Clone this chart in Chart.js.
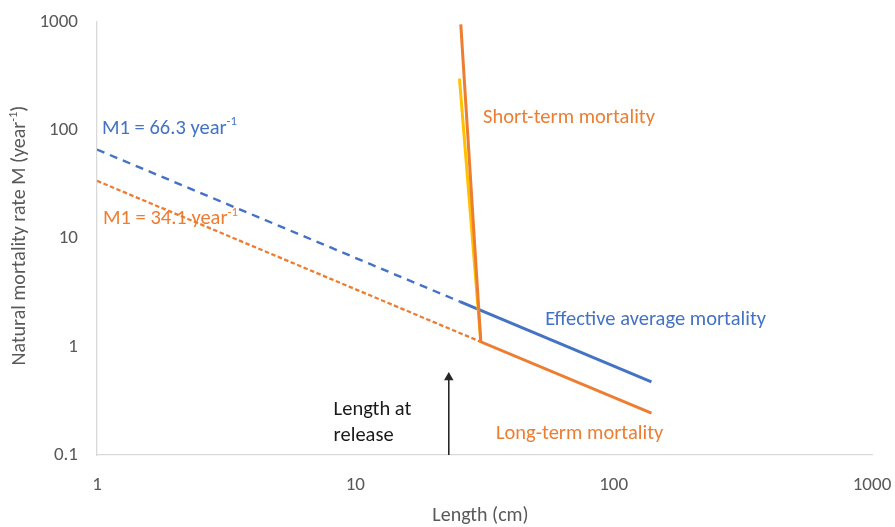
<!DOCTYPE html>
<html>
<head>
<meta charset="utf-8">
<script src="https://cdn.jsdelivr.net/npm/chart.js@4.4.1/dist/chart.umd.min.js"></script>
<style>
  html, body { margin: 0; padding: 0; background: #ffffff; }
  #wrap { width: 895px; height: 527px; }
</style>
</head>
<body>
<div id="wrap"><canvas id="c" width="895" height="527"></canvas></div>
<script>
// Axis tick values (log scales)
const xTicks = [1, 10, 100, 1000];
const yTicks = [0.1, 1, 10, 100, 1000];

// Length (cm) and natural mortality M (year^-1) for each line
const blueDashLen = [1, 25.4];
const blueDashM   = [66.3, 2.61];
const blueLen     = [25.4, 140];
const blueM       = [2.61, 0.474];
const orangeDashLen = [1, 30.6];
const orangeDashM   = [34.1, 1.11];
const orangeLen   = [25.6, 30.6, 140];
const orangeM     = [950, 1.11, 0.244];
const yellowLen   = [25.3, 30.6];
const yellowM     = [300, 1.11];
// Length at release arrow
const releaseLen  = [23, 23];
const releaseM    = [0.1, 0.52];

const FONT = 'Carlito, Calibri, Lato, sans-serif';
const BLUE = '#4472C4';
const ORANGE = '#ED7D31';
const YELLOW = '#FFC000';
const GREY = '#595959';
const NOTE_SIZE = 20.5;
const TITLE_SIZE = 20;
const TICK_SIZE = 19;

const pts = (xs, ys) => xs.map((x, i) => ({ x: x, y: ys[i] }));

// Text notes placed in data units; parts with sup:true are superscripts
const notes = [
  { at: [1.046, 103], color: BLUE, parts: [{ t: 'M1 = 66.3 year' }, { t: '-1', sup: true }] },
  { at: [1.055, 15.1], color: ORANGE, parts: [{ t: 'M1 = 34.1 year' }, { t: '-1', sup: true }] },
  { at: [31.2, 130], color: ORANGE, parts: [{ t: 'Short-term mortality' }] },
  { at: [54.3, 1.78], color: BLUE, parts: [{ t: 'Effective average mortality' }] },
  { at: [35.0, 0.156], color: ORANGE, parts: [{ t: 'Long-term mortality' }] },
  { at: [8.24, 0.26], color: '#1a1a1a', parts: [{ t: 'Length at' }] },
  { at: [8.24, 0.149], color: '#1a1a1a', parts: [{ t: 'release' }] }
];

function drawRich(ctx, parts, x, y, size, color, align) {
  ctx.save();
  ctx.fillStyle = color;
  ctx.textBaseline = 'middle';
  ctx.textAlign = 'left';
  let total = 0;
  const widths = parts.map(p => {
    ctx.font = (p.sup ? size * 0.62 : size) + 'px ' + FONT;
    const w = ctx.measureText(p.t).width;
    total += w;
    return w;
  });
  let cx = align === 'center' ? x - total / 2 : x;
  parts.forEach((p, i) => {
    ctx.font = (p.sup ? size * 0.62 : size) + 'px ' + FONT;
    ctx.fillText(p.t, cx, p.sup ? y - size * 0.32 : y);
    cx += widths[i];
  });
  ctx.restore();
}

const notesPlugin = {
  id: 'notes',
  afterDatasetsDraw(chart) {
    const ctx = chart.ctx;
    const xs = chart.scales.x, ys = chart.scales.y;
    notes.forEach(n => {
      drawRich(ctx, n.parts, xs.getPixelForValue(n.at[0]), ys.getPixelForValue(n.at[1]), NOTE_SIZE, n.color, 'left');
    });
    // axis titles
    const ca = chart.chartArea;
    drawRich(ctx, [{ t: 'Length (cm)' }], (ca.left + ca.right) / 2 - 4, chart.height - 11, TITLE_SIZE, GREY, 'center');
    ctx.save();
    ctx.translate(20, (ca.top + ca.bottom) / 2 - 3);
    ctx.rotate(-Math.PI / 2);
    drawRich(ctx, [{ t: 'Natural mortality rate M (year' }, { t: '-1', sup: true }, { t: ')' }], 0, 0, TITLE_SIZE, GREY, 'center');
    ctx.restore();
  }
};

const line = (data, color, width, dash, extra) => Object.assign({
  data: data,
  borderColor: color,
  backgroundColor: color,
  borderWidth: width,
  borderDash: dash || [],
  pointRadius: 0,
  showLine: true,
  fill: false,
  tension: 0,
  borderCapStyle: 'butt'
}, extra || {});

new Chart(document.getElementById('c'), {
  type: 'scatter',
  data: {
    datasets: [
      line(pts(releaseLen, releaseM), '#262626', 1.6, null, {
        pointRadius: [0, 5.5], pointStyle: 'triangle', pointBorderWidth: 0
      }),
      line(pts(orangeLen, orangeM), ORANGE, 3),
      line(pts(yellowLen, yellowM), YELLOW, 3),
      line(pts(blueLen, blueM), BLUE, 3),
      line(pts(blueDashLen, blueDashM), BLUE, 2.4, [8, 6]),
      line(pts(orangeDashLen, orangeDashM), ORANGE, 2.3, [4.5, 2.5])
    ]
  },
  options: {
    responsive: false,
    animation: false,
    devicePixelRatio: 1,
    layout: { padding: { top: 22, right: 23, left: 0, bottom: 0 } },
    plugins: { legend: { display: false }, tooltip: { enabled: false } },
    scales: {
      x: {
        type: 'logarithmic',
        min: 1, max: 1000,
        grid: { display: false, drawTicks: false },
        border: { display: true, color: '#D9D9D9', width: 1.3 },
        afterBuildTicks: s => { s.ticks = xTicks.map(v => ({ value: v })); },
        afterFit: s => { s.height = 72; s.paddingLeft = 0; s.paddingRight = 0; },
        ticks: {
          color: GREY, padding: 19, maxRotation: 0,
          font: { family: FONT, size: TICK_SIZE },
          callback: v => String(v)
        }
      },
      y: {
        type: 'logarithmic',
        min: 0.1, max: 1000,
        grid: { display: false, drawTicks: false },
        border: { display: true, color: '#D9D9D9', width: 1.3 },
        afterBuildTicks: s => { s.ticks = yTicks.map(v => ({ value: v })); },
        afterFit: s => { s.width = 97; s.paddingTop = 0; s.paddingBottom = 0; },
        ticks: {
          color: GREY, padding: 19,
          font: { family: FONT, size: TICK_SIZE },
          callback: v => String(v)
        }
      }
    }
  },
  plugins: [notesPlugin]
});
</script>
</body>
</html>
